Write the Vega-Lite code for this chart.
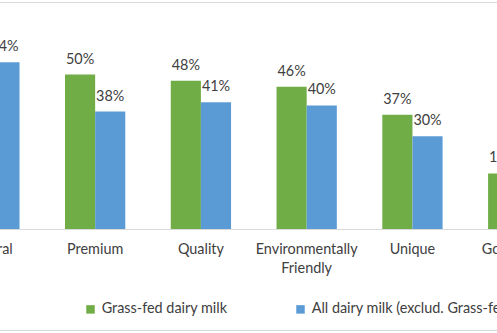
{
  "$schema": "https://vega.github.io/schema/vega-lite/v6.json",
  "width": 634.6,
  "height": 328,
  "autosize": {"type": "none"},
  "padding": {"left": -63.5, "right": -74.1, "top": 2, "bottom": 3},
  "background": "white",
  "config": {
    "font": "Lato",
    "view": {"stroke": "#d9d9d9", "strokeWidth": 1}
  },
  "data": {
    "values": [
      {"attribute": "Natural", "series": "Grass-fed dairy milk", "value": 0.58},
      {"attribute": "Natural", "series": "All dairy milk (exclud. Grass-fed)", "value": 0.54},
      {"attribute": "Premium", "series": "Grass-fed dairy milk", "value": 0.50},
      {"attribute": "Premium", "series": "All dairy milk (exclud. Grass-fed)", "value": 0.38},
      {"attribute": "Quality", "series": "Grass-fed dairy milk", "value": 0.48},
      {"attribute": "Quality", "series": "All dairy milk (exclud. Grass-fed)", "value": 0.41},
      {"attribute": "Environmentally Friendly", "series": "Grass-fed dairy milk", "value": 0.46},
      {"attribute": "Environmentally Friendly", "series": "All dairy milk (exclud. Grass-fed)", "value": 0.40},
      {"attribute": "Unique", "series": "Grass-fed dairy milk", "value": 0.37},
      {"attribute": "Unique", "series": "All dairy milk (exclud. Grass-fed)", "value": 0.30},
      {"attribute": "Good Value", "series": "Grass-fed dairy milk", "value": 0.18},
      {"attribute": "Good Value", "series": "All dairy milk (exclud. Grass-fed)", "value": 0.15}
    ]
  },
  "encoding": {
    "x": {
      "field": "attribute",
      "type": "nominal",
      "sort": ["Natural", "Premium", "Quality", "Environmentally Friendly", "Unique", "Good Value"],
      "scale": {"paddingInner": 0.43, "paddingOuter": 0.215},
      "axis": {
        "title": null,
        "labelAngle": 0,
        "ticks": false,
        "tickSize": 0,
        "labelPadding": 13.5,
        "labelFontSize": 14.4,
        "labelFont": "Lato",
        "labelColor": "#404040",
        "labelLimit": 0,
        "labelOverlap": false,
        "labelBound": false,
        "labelLineHeight": 19,
        "labelExpr": "datum.label == 'Environmentally Friendly' ? ['Environmentally', 'Friendly'] : datum.label",
        "domainColor": "#d9d9d9",
        "domainWidth": 1,
        "offset": -101,
        "grid": false
      }
    },
    "xOffset": {
      "field": "series",
      "type": "nominal",
      "sort": ["Grass-fed dairy milk", "All dairy milk (exclud. Grass-fed)"]
    },
    "y": {
      "field": "value",
      "type": "quantitative",
      "scale": {"domain": [0, 0.6], "range": [227, 41.6], "nice": false, "zero": true},
      "axis": null
    }
  },
  "layer": [
    {
      "mark": {"type": "bar"},
      "encoding": {
        "color": {
          "field": "series",
          "type": "nominal",
          "sort": ["Grass-fed dairy milk", "All dairy milk (exclud. Grass-fed)"],
          "scale": {
            "domain": ["Grass-fed dairy milk", "All dairy milk (exclud. Grass-fed)"],
            "range": ["#70ad47", "#5b9bd5"]
          },
          "legend": {
            "title": null,
            "orient": "none",
            "legendX": 146.8,
            "legendY": 300,
            "direction": "horizontal",
            "symbolType": "square",
            "symbolSize": 72,
            "symbolStrokeWidth": 0,
            "labelFontSize": 14.4,
            "labelFont": "Lato",
            "labelColor": "#404040",
            "labelOffset": 4,
            "labelLimit": 0,
            "columnPadding": 65,
            "padding": 0
          }
        }
      }
    },
    {
      "mark": {"type": "text", "baseline": "alphabetic", "dy": -11, "fontSize": 14.4, "font": "Lato", "color": "#404040"},
      "encoding": {
        "text": {"field": "value", "type": "quantitative", "format": ".0%"}
      }
    }
  ]
}
